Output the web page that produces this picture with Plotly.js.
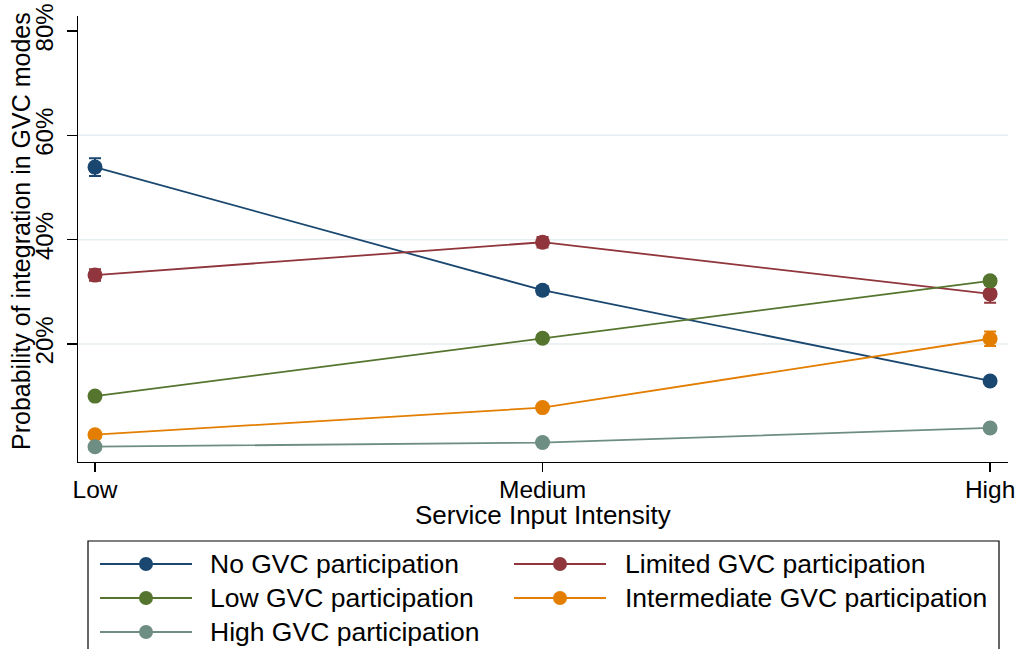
<!DOCTYPE html>
<html>
<head>
<meta charset="utf-8">
<script src="https://cdn.plot.ly/plotly-3.0.1.min.js"></script>
<style>html,body{margin:0;padding:0;background:#fff;}#chart{width:1021px;height:649px;}</style>
</head>
<body>
<div id="chart"></div>
<script>
// ---- data ----
var categories = ['Low', 'Medium', 'High'];
var seriesNames = ['No GVC participation', 'Limited GVC participation', 'Low GVC participation',
                   'Intermediate GVC participation', 'High GVC participation'];
var noGVC        = [0.539, 0.303, 0.129];
var limitedGVC   = [0.332, 0.395, 0.296];
var lowGVC       = [0.100, 0.211, 0.321];
var intermedGVC  = [0.026, 0.078, 0.210];
var highGVC      = [0.003, 0.011, 0.039];
var noGVC_err       = [0.017, 0.008, 0.006];
var limitedGVC_err  = [0.011, 0.010, 0.017];
var lowGVC_err      = [0.005, 0.005, 0.006];
var intermedGVC_err = [0.004, 0.005, 0.014];
var highGVC_err     = [0.002, 0.003, 0.005];
var yTickVals = [0.2, 0.4, 0.6, 0.8];
var yTickText = ['20%', '40%', '60%', '80%'];
var xTitle = 'Service Input Intensity';
var yTitle = 'Probability of integration in GVC modes';

var seriesValues = [noGVC, limitedGVC, lowGVC, intermedGVC, highGVC];
var seriesErrors = [noGVC_err, limitedGVC_err, lowGVC_err, intermedGVC_err, highGVC_err];
var colors = ['#1a476f', '#90353b', '#55752f', '#e37e00', '#6e8e84'];

var FONT = 'Liberation Sans, Arial, sans-serif';

var traces = seriesValues.map(function (vals, i) {
  return {
    type: 'scatter', mode: 'lines+markers',
    x: categories, y: vals, name: seriesNames[i],
    line: {color: colors[i], width: 1.8},
    marker: {color: colors[i], size: 15, symbol: 'circle'},
    error_y: {type: 'data', array: seriesErrors[i], visible: true, color: colors[i], thickness: 2, width: 6},
    showlegend: false, cliponaxis: false
  };
});

// plot area geometry (pixels) for custom legend / titles
var L = 78, R = 13, T = 16, B = 187, W = 1021, H = 649;
var pw = W - L - R, ph = H - T - B;
function px(x) { return (x - L) / pw; }
function py(y) { return (H - B - y) / ph; }

var shapes = [];
// grid lines at inner ticks (none at the top tick, as in the reference)
yTickVals.slice(0, 3).forEach(function (v) {
  shapes.push({type: 'line', xref: 'paper', yref: 'y', x0: 0, x1: 1, y0: v, y1: v, layer: 'below',
               line: {color: '#e6eef1', width: 1.5}});
});
shapes.push({
  type: 'rect', xref: 'paper', yref: 'paper',
  x0: px(88), x1: px(999), y0: py(541), y1: py(660),
  line: {color: '#000', width: 1.2}, fillcolor: 'rgba(0,0,0,0)'
});
var annotations = [];
var colX = [[100, 192, 146, 211], [514, 606, 560, 626]];
var rowY = [564, 598, 632];
seriesNames.forEach(function (nm, i) {
  var c = colX[i % 2], r = rowY[Math.floor(i / 2)];
  shapes.push({type: 'line', xref: 'paper', yref: 'paper', x0: px(c[0]), x1: px(c[1]), y0: py(r), y1: py(r),
               line: {color: colors[i], width: 1.8}});
  shapes.push({type: 'circle', xref: 'paper', yref: 'paper', x0: px(c[2] - 7), x1: px(c[2] + 7), y0: py(r - 7), y1: py(r + 7),
               line: {color: colors[i], width: 0}, fillcolor: colors[i]});
  annotations.push({xref: 'paper', yref: 'paper', x: px(c[3] - 3), y: py(r), xanchor: 'left', yanchor: 'middle',
                    text: nm, showarrow: false, font: {family: FONT, size: 26.5, color: '#000'}});
});
// axis titles
annotations.push({xref: 'paper', yref: 'paper', x: px(543), y: py(515), xanchor: 'center', yanchor: 'middle',
                  text: xTitle, showarrow: false, font: {family: FONT, size: 26, color: '#000'}});
annotations.push({xref: 'paper', yref: 'paper', x: px(21), y: py(231), xanchor: 'center', yanchor: 'middle',
                  textangle: -90, text: yTitle, showarrow: false, font: {family: FONT, size: 25, color: '#000'}});

var layout = {
  width: W, height: H,
  margin: {l: L, r: R, t: T, b: B, pad: 0},
  paper_bgcolor: '#fff', plot_bgcolor: '#fff',
  font: {family: FONT, size: 25, color: '#000'},
  showlegend: false,
  xaxis: {
    type: 'category', range: [-0.038, 2.04],
    showline: true, linecolor: '#000', linewidth: 1.3,
    ticks: 'outside', ticklen: 9, tickwidth: 1.3, tickcolor: '#000',
    ticklabelstandoff: -4,
    showgrid: false, zeroline: false,
    tickfont: {family: FONT, size: 24.5}
  },
  yaxis: {
    range: [-0.0263, 0.8287],
    tickvals: yTickVals, ticktext: yTickText, tickangle: -90,
    showline: true, linecolor: '#000', linewidth: 1.3,
    ticks: 'outside', ticklen: 10, tickwidth: 1.3, tickcolor: '#000',
    ticklabelstandoff: 4,
    showgrid: false, zeroline: false,
    tickfont: {family: FONT, size: 24}
  },
  shapes: shapes,
  annotations: annotations
};

Plotly.newPlot('chart', traces, layout, {displayModeBar: false, staticPlot: true});
</script>
</body>
</html>
